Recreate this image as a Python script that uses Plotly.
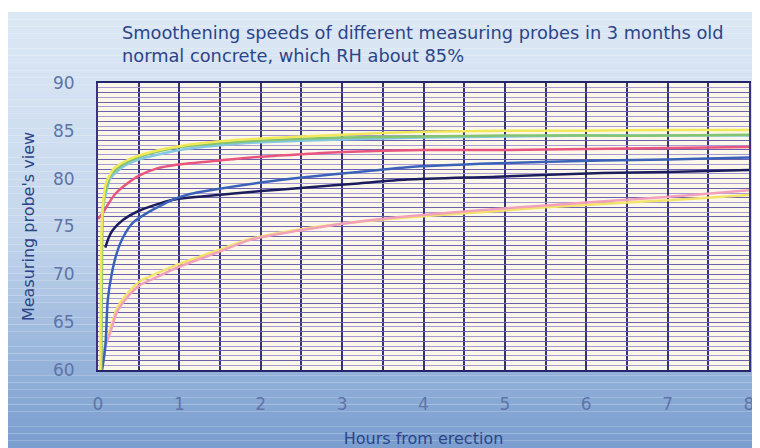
import plotly.graph_objects as go

# curves (hours, probe reading)
yellow_top_h = [0.03, 0.05, 0.1, 0.2, 0.4, 0.7, 1.0, 1.5, 2, 3, 4, 5, 6, 7, 8]
yellow_top_v = [60, 76, 79.6, 81.1, 82.1, 82.9, 83.4, 83.9, 84.2, 84.6, 84.9, 85.0, 85.0, 85.1, 85.1]

green_h = [0.04, 0.05, 0.07, 0.15, 0.31, 0.52, 0.72, 1.0, 1.5, 2, 3, 4, 5, 6, 7, 8]
green_v = [60, 73, 77.8, 80.3, 81.5, 82.3, 82.8, 83.3, 83.7, 84.0, 84.3, 84.4, 84.5, 84.5, 84.5, 84.6]

cyan_h = [0.06, 0.15, 0.3, 0.5, 1, 1.5, 2, 3, 4, 5, 6, 7, 8]
cyan_v = [77, 80.0, 81.2, 82.0, 83.0, 83.5, 83.8, 84.1, 84.3, 84.4, 84.5, 84.5, 84.5]

red_h = [0.0, 0.05, 0.1, 0.2, 0.3, 0.5, 0.7, 1.0, 1.5, 2, 2.6, 3, 4, 5, 6, 7, 8]
red_v = [75.8, 76.3, 77.0, 78.3, 79.1, 80.3, 81.0, 81.5, 81.9, 82.3, 82.6, 82.8, 83.0, 83.0, 83.1, 83.2, 83.3]

blue_h = [0.05, 0.09, 0.12, 0.17, 0.23, 0.31, 0.43, 0.6, 0.92, 1.13, 1.38, 2.0, 2.6, 3.2, 3.8, 4.9, 6.2, 7, 8]
blue_v = [60, 62.4, 67.3, 70.1, 72.2, 73.9, 75.4, 76.4, 77.8, 78.4, 78.8, 79.6, 80.2, 80.7, 81.2, 81.6, 81.9, 82.0, 82.2]

navy_h = [0.09, 0.13, 0.18, 0.31, 0.52, 0.92, 1.47, 2.0, 2.6, 3.2, 3.8, 4.9, 6.2, 7, 8]
navy_v = [72.8, 73.8, 74.6, 75.7, 76.7, 77.8, 78.3, 78.7, 79.1, 79.5, 79.9, 80.2, 80.6, 80.7, 80.9]

low_h = [0.03, 0.08, 0.15, 0.23, 0.36, 0.52, 0.72, 1.0, 1.47, 1.87, 2.48, 3.1, 3.71, 4.69, 5.5, 6.5, 7.3, 8]
low_pink_v = [60, 62.3, 63.9, 66.0, 67.6, 68.9, 69.7, 70.8, 72.3, 73.6, 74.6, 75.4, 76.0, 76.7, 77.2, 77.8, 78.3, 78.8]
low_yellow_v = [60, 62.6, 64.3, 66.4, 68.0, 69.3, 70.1, 71.1, 72.5, 73.7, 74.7, 75.4, 75.9, 76.5, 77.0, 77.5, 77.9, 78.3]

x_ticks = [0, 1, 2, 3, 4, 5, 6, 7, 8]
y_ticks = [60, 65, 70, 75, 80, 85, 90]

fig = go.Figure()

series = [
    (low_h, low_yellow_v, '#f2e36a'),
    (low_h, low_pink_v, '#f3a0bb'),
    (navy_h, navy_v, '#1b1d5c'),
    (blue_h, blue_v, '#3b62b9'),
    (red_h, red_v, '#e8557f'),
    (cyan_h, cyan_v, '#86c8e4'),
    (green_h, green_v, '#84c46e'),
    (yellow_top_h, yellow_top_v, '#f1e85a'),
]
for h, v, c in series:
    fig.add_trace(go.Scatter(x=h, y=v, mode='lines', showlegend=False,
                             line=dict(color=c, width=2.5, shape='spline', smoothing=0.6),
                             hoverinfo='skip'))

# the page body adds an 8px white margin left/top, so the figure is 752x440
W, H = 752, 440
L, R, T, B = 90, 741, 75, 362
pw, ph = R - L, B - T


def px_x(p):
    return (p - L) / pw


def px_y(p):
    return (B - p) / ph


# scanned paper: vertical blue gradient, built from thin bands
top_c = (221, 232, 245)
mid_c = (197, 215, 237)
bot_c = (122, 158, 208)
n = 60
shapes = [dict(type='rect', xref='paper', yref='paper', x0=px_x(0), x1=px_x(W),
               y0=px_y(H), y1=px_y(0), fillcolor='white', line_width=0, layer='below')]
for i in range(n):
    y0 = 4 + (H - 4) * i / n
    y1 = 4 + (H - 4) * (i + 1) / n
    t = i / (n - 1)
    if t < 0.5:
        a, b, f = top_c, mid_c, t / 0.5
    else:
        a, b, f = mid_c, bot_c, (t - 0.5) / 0.5
    col = 'rgb(%d,%d,%d)' % tuple(int(a[k] + (b[k] - a[k]) * f) for k in range(3))
    shapes.append(dict(type='rect', xref='paper', yref='paper', x0=px_x(0), x1=px_x(W),
                       y0=px_y(y1), y1=px_y(y0), fillcolor=col, line_width=0, layer='below'))
shapes.append(dict(type='rect', xref='paper', yref='paper', x0=0, x1=1, y0=0, y1=1,
                   fillcolor='#fbf8ea', line_width=0, layer='below'))

FONT = 'DejaVu Sans, Arial, sans-serif'

fig.update_layout(
    width=W, height=H,
    margin=dict(l=L, r=W - R, t=T, b=H - B),
    paper_bgcolor='white',
    plot_bgcolor='rgba(0,0,0,0)',
    shapes=shapes,
    font=dict(family=FONT, color='#2b4588'),
    title=dict(text="Smoothening speeds of different measuring probes in 3 months old<br>normal concrete, which RH about 85%",
               x=114 / W, xanchor='left', xref='container',
               y=1 - 31 / H, yanchor='top', yref='container',
               font=dict(size=17.8, color='#2b4588')),
    xaxis=dict(range=[0, 8], tickvals=x_ticks, ticks='outside', ticklen=18,
               tickcolor='rgba(0,0,0,0)', tickfont=dict(size=17, color='#5f74a8'),
               showgrid=True, gridcolor='#34346f', gridwidth=1.5,
               minor=dict(dtick=0.5, showgrid=True, gridcolor='#34346f', gridwidth=1.5),
               showline=True, linecolor='#24246a', linewidth=2, mirror=True,
               zeroline=False, automargin=False,
               title=dict(text='Hours from erection', font=dict(size=16, color='#2b4588'),
                          standoff=20)),
    yaxis=dict(range=[60, 90], tickvals=y_ticks, ticks='outside', ticklen=18,
               tickcolor='rgba(0,0,0,0)', tickfont=dict(size=17, color='#5f74a8'),
               showgrid=True, gridcolor='#9c8ecc', gridwidth=1,
               minor=dict(dtick=0.5, showgrid=True, gridcolor='#a898d4', gridwidth=1),
               showline=True, linecolor='#3a3480', linewidth=2, mirror=True,
               zeroline=False, automargin=False,
               title=dict(text="Measuring probe's view", font=dict(size=16, color='#2b4588'),
                          standoff=14)),
    # integer grid lines, a little darker than the half-unit ones
    yaxis2=dict(range=[60, 90], overlaying='y', dtick=1, showticklabels=False,
                showgrid=True, gridcolor='#6e60b0', gridwidth=1.3, zeroline=False,
                automargin=False),
)
fig.add_trace(go.Scatter(x=[None], y=[None], yaxis='y2', showlegend=False, hoverinfo='skip'))

fig.write_html("out.html")
